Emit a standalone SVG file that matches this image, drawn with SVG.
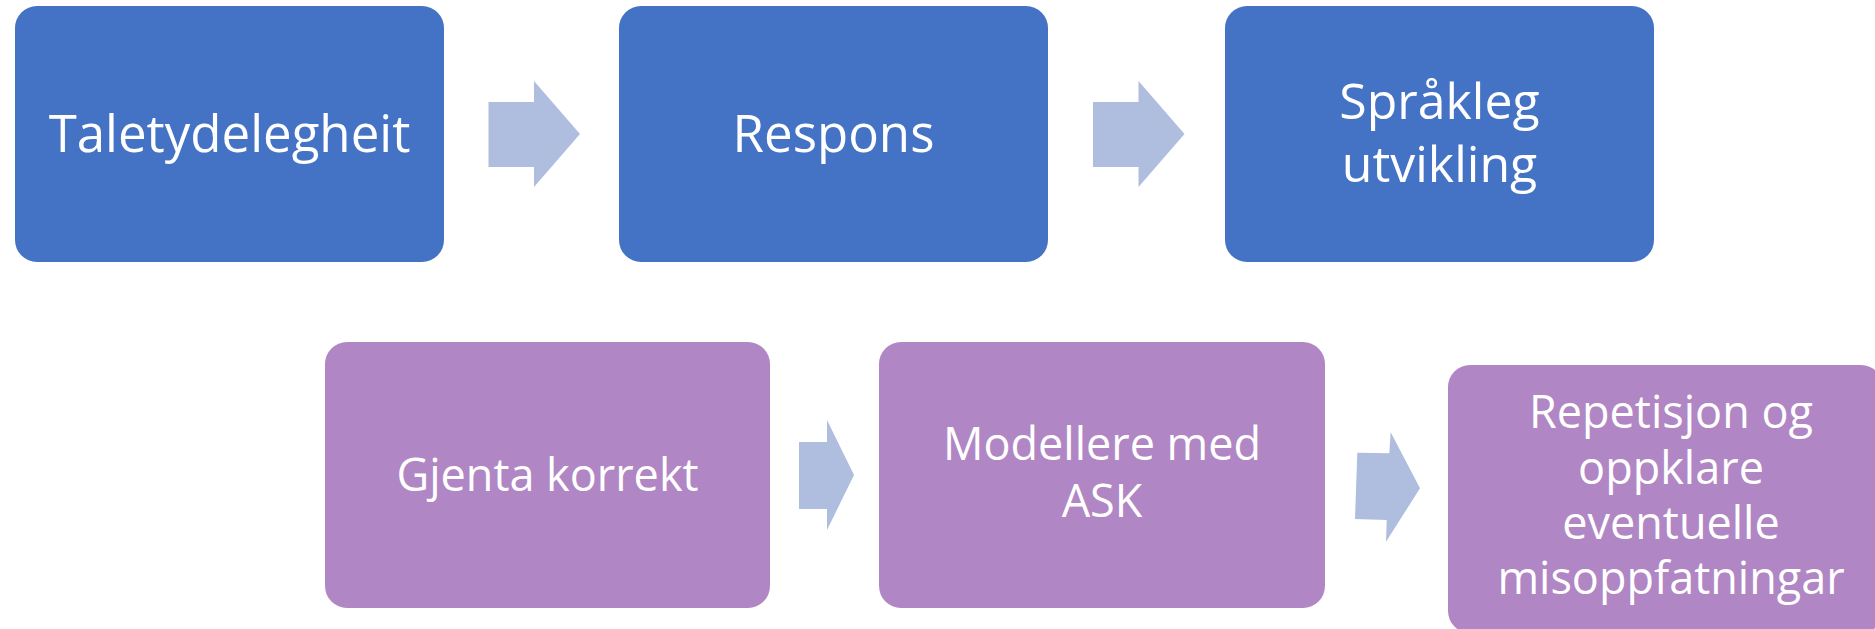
<svg xmlns="http://www.w3.org/2000/svg" width="1875" height="629" viewBox="0 0 1875 629">
<style>
.blue{fill:#4472C4}
.purple{fill:#B086C4}
.arrow{fill:#AFBDDF}
text{font-family:"Open Sans","Noto Sans","Liberation Sans",sans-serif;fill:#FFFFFF;text-anchor:middle}
.t1{font-size:51px}
.t1b{font-size:50px}
.t2{font-size:45px}
</style>
<rect width="1875" height="629" fill="#FFFFFF"/>
<g id="connectors">
<polygon class="arrow" points="488.5,102 534,102 534,81 580,134 534,187 534,167 488.5,167"/>
<polygon class="arrow" points="1093,102 1138.5,102 1138.5,81 1184.5,134 1138.5,187 1138.5,167 1093,167"/>
<polygon class="arrow" points="799,442 827,442 827,420 854,475 827,530 827,509 799,509"/>
<polygon class="arrow" points="1357.3,452.7 1389.3,453.3 1390.7,432.3 1420,488.3 1386,541.7 1386.7,520 1355,519"/>
</g>
<g id="node-taletydelegheit">
<rect class="blue" x="15" y="6" width="429" height="256" rx="22"/>
<text class="t1" x="229.5" y="152">Taletydelegheit</text>
</g>
<g id="node-respons">
<rect class="blue" x="619" y="6" width="429" height="256" rx="22"/>
<text class="t1" x="833.5" y="152">Respons</text>
</g>
<g id="node-spraakleg">
<rect class="blue" x="1225" y="6" width="429" height="256" rx="22"/>
<text class="t1b" x="1439.5" y="119">Språkleg<tspan x="1439.5" dy="62.5">utvikling</tspan></text>
</g>
<g id="node-gjenta">
<rect class="purple" x="325" y="342" width="445" height="266" rx="22"/>
<text class="t2" x="547.5" y="491">Gjenta korrekt</text>
</g>
<g id="node-modellere">
<rect class="purple" x="879" y="342" width="446" height="266" rx="22"/>
<text class="t2" x="1102" y="460">Modellere med<tspan x="1102" dy="57">ASK</tspan></text>
</g>
<g id="node-repetisjon">
<rect class="purple" x="1448" y="365" width="435" height="268" rx="22"/>
<text class="t2" x="1671" y="428">Repetisjon og<tspan x="1671" dy="56">oppklare</tspan><tspan x="1671" dy="55">eventuelle</tspan><tspan x="1671" dy="55">misoppfatningar</tspan></text>
</g>
</svg>
